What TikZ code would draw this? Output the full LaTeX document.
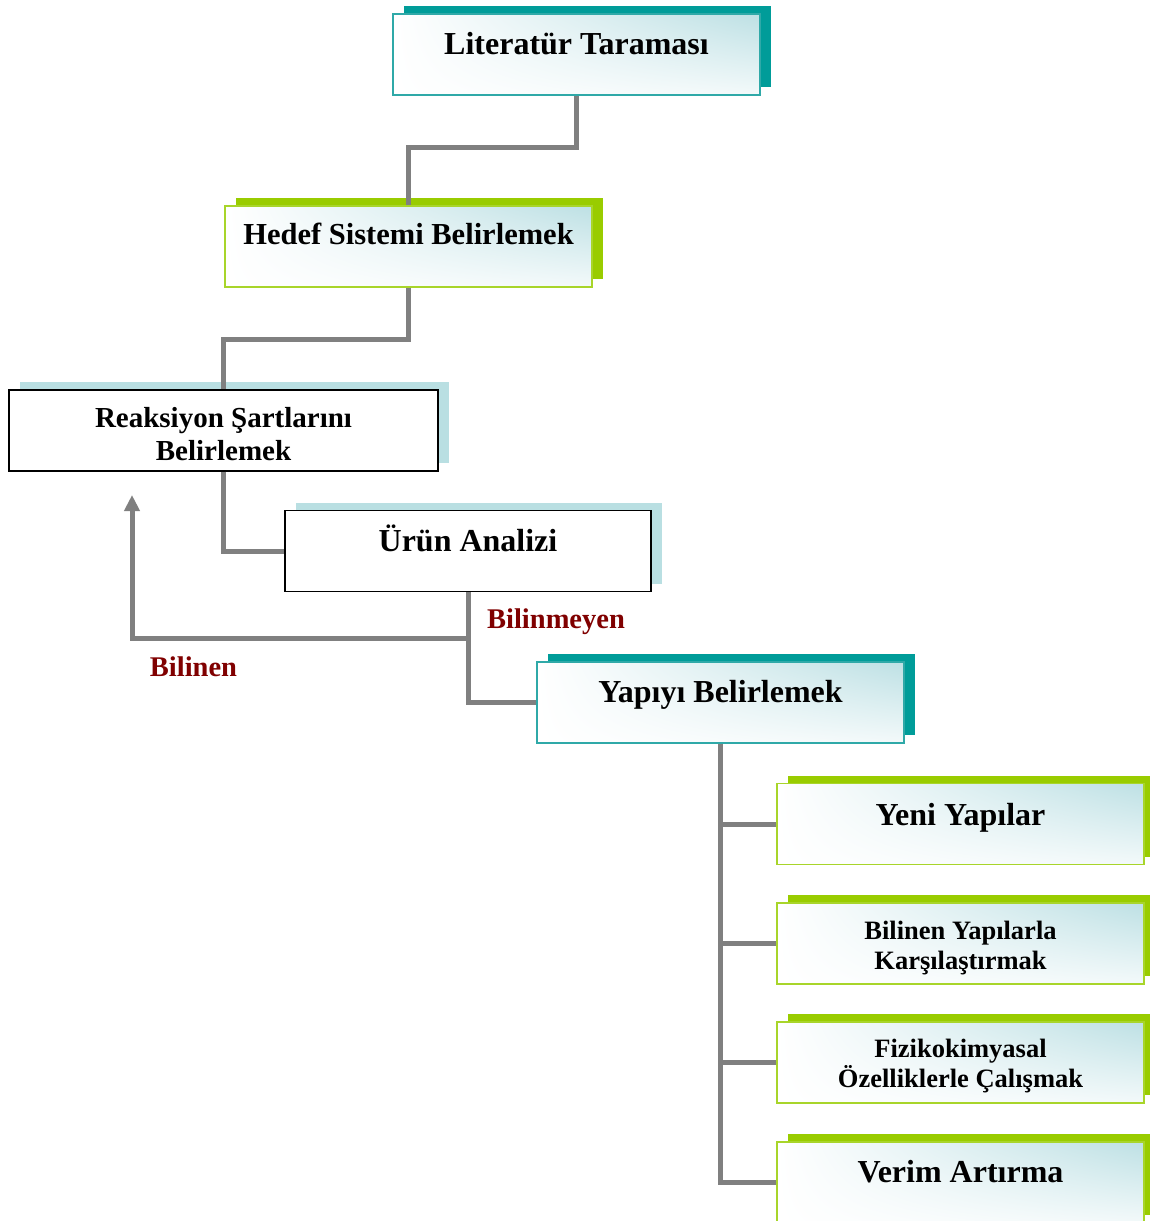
\documentclass[tikz,border=0pt]{standalone}
\usepackage{fontspec}
\setmainfont{Liberation Serif}
\usetikzlibrary{shadows,shadings,arrows.meta}
\definecolor{tealsh}{HTML}{009C99}
\definecolor{tealbd}{HTML}{2FA9A8}
\definecolor{greensh}{HTML}{99CC00}
\definecolor{greenbd}{HTML}{A8D52A}
\definecolor{lblue}{HTML}{B9DFE2}
\definecolor{gblue}{HTML}{BDE0E4}
\definecolor{conn}{HTML}{808080}
\definecolor{lab}{HTML}{800000}
\tikzset{
  box/.style={rectangle, minimum width=367pt, minimum height=81pt, inner sep=0pt,
    line width=1.4pt, upper left=white, lower left=white,
    upper right=gblue, lower right=gblue!18},
  tealbox/.style={box, draw=tealbd,
    general shadow={fill=tealsh, shadow xshift=11pt, shadow yshift=8pt}},
  greenbox/.style={box, draw=greenbd,
    general shadow={fill=greensh, shadow xshift=11pt, shadow yshift=8pt}},
  plainbox/.style={rectangle, inner sep=0pt, minimum height=81pt, draw=black, line width=1.4pt, fill=white,
    general shadow={fill=lblue, shadow xshift=11pt, shadow yshift=8pt}},
  txt/.style={anchor=base, inner sep=0pt, font=\bfseries},
  big/.style={txt, font=\bfseries\fontsize{32}{36}\selectfont},
  mid/.style={txt, font=\bfseries\fontsize{29}{33}\selectfont},
  small/.style={txt, font=\bfseries\fontsize{26.5}{30}\selectfont},
  lbl/.style={txt, text=lab, font=\bfseries\fontsize{28.5}{32}\selectfont},
  conline/.style={draw=conn, line width=5pt, line join=miter}
}
\begin{document}
\begin{tikzpicture}[x=1pt,y=-1pt]
\useasboundingbox (0,0) rectangle (1150,1221);
% boxes
\node[tealbox] (lit) at (576.5,54.5) {};
\node[greenbox] (hedef) at (408.5,246.5) {};
\node[plainbox, minimum width=429pt] (reak) at (223.5,430.5) {};
\node[plainbox, minimum width=366pt] (urun) at (468,551) {};
\node[tealbox] (yapi) at (720.5,702.5) {};
\node[greenbox] (yeni) at (960.5,824) {};
\node[greenbox] (bily) at (960.5,943.5) {};
\node[greenbox] (fiz) at (960.5,1062.5) {};
\node[greenbox] (verim) at (960.5,1182.5) {};
% texts
\node[big] (tlit) at (576.5,54) {Literatür Taraması};
\node[txt, font=\bfseries\fontsize{30.5}{34}\selectfont] (thedef) at (408.5,244) {Hedef Sistemi Belirlemek};
\node[mid] (treak1) at (223.5,427) {Reaksiyon Şartlarını};
\node[mid] (treak2) at (223.5,460) {Belirlemek};
\node[big] (turun) at (468,551) {Ürün Analizi};
\node[big] (tyapi) at (720.5,702) {Yapıyı Belirlemek};
\node[big] (tyeni) at (960.5,825) {Yeni Yapılar};
\node[small] (tbily1) at (960.5,939) {Bilinen Yapılarla};
\node[small] (tbily2) at (960.5,969) {Karşılaştırmak};
\node[small] (tfiz1) at (960.5,1057) {Fizikokimyasal};
\node[small] (tfiz2) at (960.5,1087) {Özelliklerle Çalışmak};
\node[big] (tverim) at (960.5,1182) {Verim Artırma};
\node[lbl] (lbm) at (556,628) {Bilinmeyen};
\node[lbl] (lbn) at (193.5,676) {Bilinen};
% connectors
\path[conline] (lit.south) -- ++(0,51.5) -| (hedef.north);
\path[conline] (hedef.south) -- ++(0,51.5) -| (reak.north);
\path[conline] (reak.south) |- (urun.west);
\path[conline] (urun.south) |- (yapi.west);
\coordinate (junc) at (468,638);
\coordinate (back) at (132,495);
\path[conline, -{Triangle[width=15pt,length=16pt]}] (junc) -| (back);
\path[conline] (yapi.south) |- (verim.west);
\path[conline] (yapi.south |- yeni.west) -- (yeni.west);
\path[conline] (yapi.south |- bily.west) -- (bily.west);
\path[conline] (yapi.south |- fiz.west) -- (fiz.west);
\end{tikzpicture}
\end{document}
